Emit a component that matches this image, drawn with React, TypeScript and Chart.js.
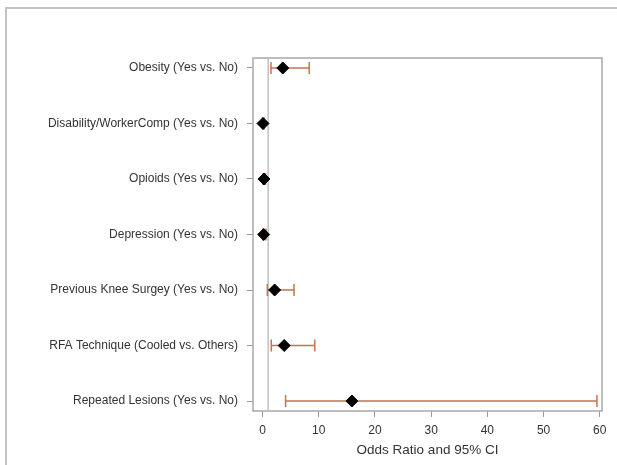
import React, { useEffect, useRef } from "react";
import { Chart, registerables } from "chart.js";

Chart.register(...registerables);

const categories = [
  "Obesity (Yes vs. No)",
  "Disability/WorkerComp (Yes vs. No)",
  "Opioids (Yes vs. No)",
  "Depression (Yes vs. No)",
  "Previous Knee Surgey (Yes vs. No)",
  "RFA Technique (Cooled vs. Others)",
  "Repeated Lesions (Yes vs. No)",
];
const oddsRatio = [3.6, 0.08, 0.25, 0.2, 2.15, 3.85, 15.9];
const ciLower = [1.5, 0.02, 0.08, 0.05, 0.85, 1.55, 4.1];
const ciUpper = [8.3, 0.3, 0.55, 0.6, 5.6, 9.3, 59.5];
const xTicks = [0, 10, 20, 30, 40, 50, 60];
const refValue = 1;

const FONT = "'Liberation Sans', Arial, sans-serif";

export default function App() {
  const ref = useRef<HTMLCanvasElement>(null);
  useEffect(() => {
    document.body.style.margin = "0";
    const canvas = ref.current!;
    const framePlugin = {
      id: "frame",
      beforeDraw(chart: any) {
        const ctx = chart.ctx;
        ctx.save();
        ctx.fillStyle = "#ffffff";
        ctx.fillRect(0, 0, chart.width, chart.height);
        ctx.strokeStyle = "#c4c4c4";
        ctx.lineWidth = 2;
        ctx.beginPath();
        ctx.moveTo(6, chart.height);
        ctx.lineTo(6, 8);
        ctx.lineTo(chart.width, 8);
        ctx.stroke();
        ctx.restore();
      },
      beforeDatasetsDraw(chart: any) {
        const ctx = chart.ctx;
        const a = chart.chartArea;
        const xs = chart.scales.x;
        const ys = chart.scales.y;
        ctx.save();
        ctx.strokeStyle = "#a8a8a8";
        ctx.lineWidth = 1.5;
        ctx.strokeRect(a.left, a.top, a.right - a.left, a.bottom - a.top);
        const rx = xs.getPixelForValue(refValue);
        ctx.strokeStyle = "#c0c0c0";
        ctx.lineWidth = 1.5;
        ctx.beginPath();
        ctx.moveTo(rx, a.top);
        ctx.lineTo(rx, a.bottom);
        ctx.stroke();
        ctx.strokeStyle = "#c8734c";
        ctx.lineWidth = 1.5;
        for (let i = 0; i < categories.length; i++) {
          const y = ys.getPixelForValue(i);
          const x1 = xs.getPixelForValue(ciLower[i]);
          const x2 = xs.getPixelForValue(ciUpper[i]);
          ctx.beginPath();
          ctx.moveTo(x1, y);
          ctx.lineTo(x2, y);
          ctx.moveTo(x1, y - 6);
          ctx.lineTo(x1, y + 6);
          ctx.moveTo(x2, y - 6);
          ctx.lineTo(x2, y + 6);
          ctx.stroke();
        }
        ctx.restore();
      },
    };
    const chart = new Chart(canvas, {
      type: "scatter",
      data: {
        datasets: [
          {
            data: oddsRatio.map((v, i) => ({ x: v, y: i })),
            pointStyle: "rectRot",
            radius: 6,
            backgroundColor: "#000000",
            borderColor: "#000000",
            borderWidth: 1,
          },
        ],
      },
      options: {
        animation: false,
        responsive: false,
        maintainAspectRatio: false,
        layout: { padding: { left: 0, top: 58, right: 15, bottom: 0 } },
        plugins: { legend: { display: false }, tooltip: { enabled: false } },
        scales: {
          x: {
            type: "linear",
            min: -1.7,
            max: 60.4,
            afterBuildTicks: (s: any) => {
              s.ticks = xTicks.map((v) => ({ value: v }));
            },
            afterFit: (s: any) => {
              s.height = 54;
            },
            grid: {
              drawOnChartArea: false,
              drawTicks: true,
              tickLength: 6,
              color: "#999999",
            },
            border: { display: false },
            ticks: {
              color: "#333333",
              font: { family: FONT, size: 12 },
              padding: 6,
              maxRotation: 0,
            },
            title: {
              display: true,
              text: "Odds Ratio and 95% CI",
              color: "#333333",
              font: { family: FONT, size: 13.5 },
              padding: { top: 4, bottom: 7 },
            },
          },
          y: {
            type: "linear",
            reverse: true,
            min: -0.18,
            max: 6.18,
            afterBuildTicks: (s: any) => {
              s.ticks = categories.map((_, i) => ({ value: i }));
            },
            afterFit: (s: any) => {
              s.width = 253;
            },
            grid: {
              drawOnChartArea: false,
              drawTicks: true,
              tickLength: 6,
              color: "#999999",
            },
            border: { display: false },
            ticks: {
              color: "#333333",
              font: { family: FONT, size: 12 },
              padding: 9,
              callback: (v: any) => categories[v as number] ?? "",
            },
          },
        },
      },
      plugins: [framePlugin],
    });
    return () => chart.destroy();
  }, []);
  return <canvas ref={ref} width={617} height={465} style={{ display: "block" }} />;
}
